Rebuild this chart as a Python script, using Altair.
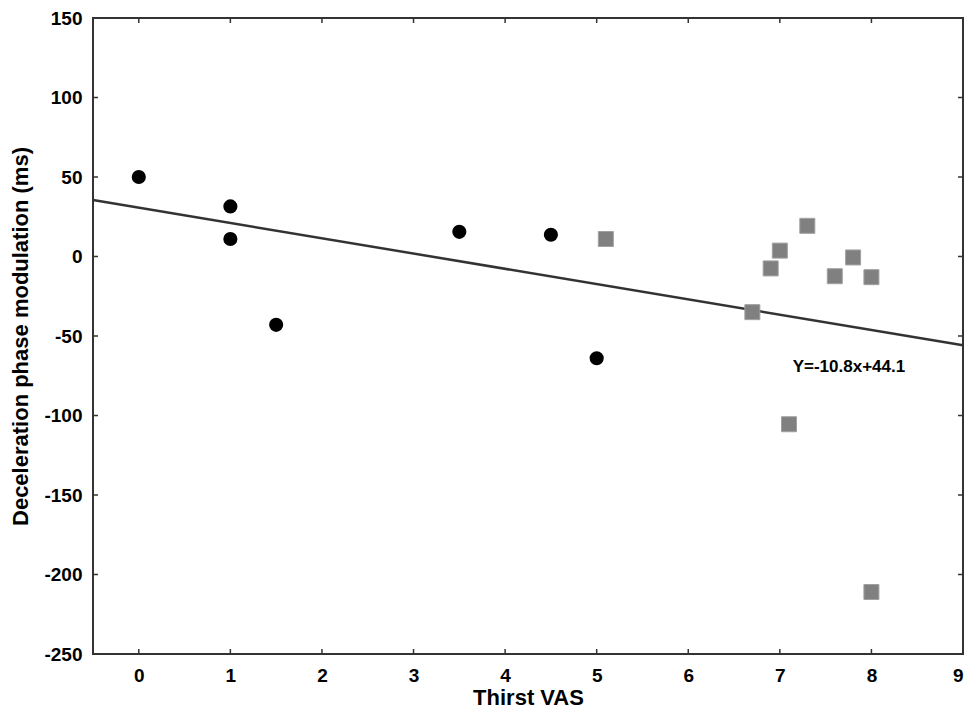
import altair as alt
import pandas as pd

# Black circles (group 1)
circle_x = [0, 1, 1, 1.5, 3.5, 4.5, 5]
circle_y = [50, 31.5, 11, -43, 15.5, 13.7, -64]

# Grey squares (group 2)
square_x = [5.1, 6.7, 6.9, 7.0, 7.3, 7.6, 7.8, 8.0, 7.1, 8.0]
square_y = [11, -35, -7.5, 3.7, 19.3, -12.4, -0.6, -13, -105.5, -211]

# Regression line endpoints as drawn
line_x = [-0.5, 9]
line_y = [35.5, -55.8]

eq_label = ["Y=-10.8x+44.1"]
eq_x = [7.14]
eq_y = [-69.5]

x_ticks = [0, 1, 2, 3, 4, 5, 6, 7, 8, 9]
y_ticks = [-250, -200, -150, -100, -50, 0, 50, 100, 150]

W, H = 870, 636
TL = 5  # inward tick length

circles = pd.DataFrame({"x": circle_x, "y": circle_y})
squares = pd.DataFrame({"x": square_x, "y": square_y})
line = pd.DataFrame({"x": line_x, "y": line_y})
label = pd.DataFrame({"x": eq_x, "y": eq_y, "t": eq_label})
xt = pd.DataFrame({"x": x_ticks})
yt = pd.DataFrame({"y": y_ticks})

FONT = "Liberation Sans"
xscale = alt.Scale(domain=[-0.5, 9], nice=False, zero=False)
yscale = alt.Scale(domain=[-250, 150], nice=False, zero=False)

common = dict(labelFont=FONT, labelFontSize=19, labelFontWeight="bold", labelColor="black",
              titleFont=FONT, titleFontSize=22, titleFontWeight="bold", titleColor="black",
              ticks=False, grid=False, domain=False, labelExpr="toString(datum.value)")
x_axis = alt.Axis(values=x_ticks, title="Thirst VAS", labelPadding=12, titlePadding=2, **common)
y_axis = alt.Axis(values=y_ticks, title="Deceleration phase modulation (ms)",
                  labelPadding=11, titlePadding=11, **common)

base_circles = alt.Chart(circles).mark_circle(size=200, color="black", opacity=1).encode(
    x=alt.X("x:Q", scale=xscale, axis=x_axis),
    y=alt.Y("y:Q", scale=yscale, axis=y_axis),
)

sq = alt.Chart(squares).mark_square(size=225, color="#808080", opacity=1,
                                    stroke="#a0a0a0", strokeWidth=1).encode(
    x="x:Q",
    y="y:Q",
)

ln = alt.Chart(line).mark_line(color="#333333", strokeWidth=2.5).encode(
    x="x:Q",
    y="y:Q",
)

txt = alt.Chart(label).mark_text(align="left", baseline="middle", font=FONT,
                                 fontSize=17, fontWeight="bold", color="black").encode(
    x="x:Q",
    y="y:Q",
    text="t:N",
)

tick_style = dict(color="#333333", strokeWidth=1.5)
tick_bottom = alt.Chart(xt).mark_rule(**tick_style).encode(
    x="x:Q", y=alt.value(H), y2=alt.value(H - TL))
tick_top = alt.Chart(xt).mark_rule(**tick_style).encode(
    x="x:Q", y=alt.value(0), y2=alt.value(TL))
tick_left = alt.Chart(yt).mark_rule(**tick_style).encode(
    y="y:Q", x=alt.value(0), x2=alt.value(TL))
tick_right = alt.Chart(yt).mark_rule(**tick_style).encode(
    y="y:Q", x=alt.value(W), x2=alt.value(W - TL))

chart = alt.layer(base_circles, ln, sq, txt, tick_bottom, tick_top, tick_left, tick_right).properties(
    width=W, height=H,
    autosize=alt.AutoSizeParams(type="none"),
    padding={"left": 85, "top": 10, "right": 4, "bottom": 56},
).configure_view(
    stroke="#333333", strokeWidth=2
)

chart.save("out.html", embed_options={"renderer": "svg", "actions": False})
